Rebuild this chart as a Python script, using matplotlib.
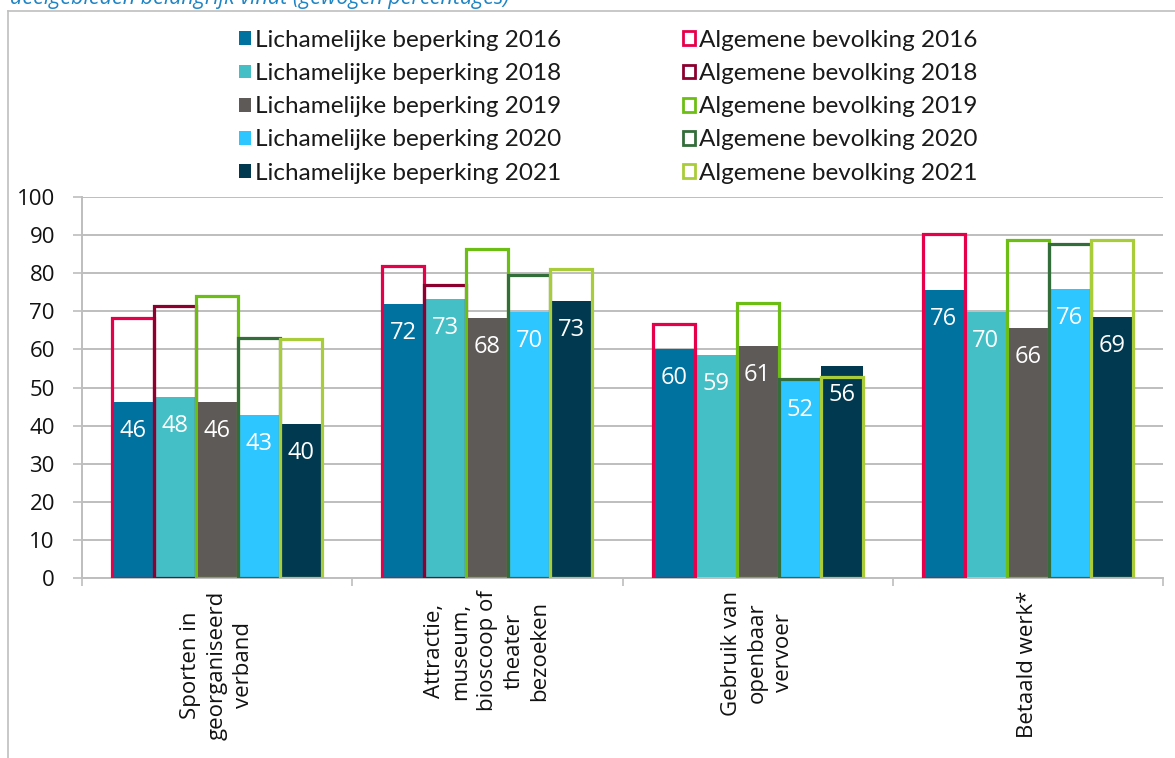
import matplotlib
matplotlib.use("Agg")
import matplotlib.pyplot as plt
from matplotlib.patches import Patch
from matplotlib.lines import Line2D
import numpy as np

# ---------------- data ----------------
categories = ["Sporten in\ngeorganiseerd\nverband",
              "Attractie,\nmuseum,\nbioscoop of\ntheater\nbezoeken",
              "Gebruik van\nopenbaar\nvervoer",
              "Betaald werk*"]
years = ["2016", "2018", "2019", "2020", "2021"]

# Lichamelijke beperking (filled bars), per year over the 4 categories
lb_2016 = [46.3, 71.9, 60.1, 75.6]
lb_2018 = [47.6, 73.2, 58.6, 69.9]
lb_2019 = [46.3, 68.2, 60.8, 65.7]
lb_2020 = [42.7, 69.7, 51.6, 75.8]
lb_2021 = [40.3, 72.7, 55.6, 68.6]

# Algemene bevolking (outlined bars); None = not available
ab_2016 = [68.2, 81.9, 66.7, 90.4]
ab_2018 = [71.3, 76.8, None, None]
ab_2019 = [74.0, 86.3, 72.2, 88.8]
ab_2020 = [63.1, 79.6, 52.2, 87.6]
ab_2021 = [62.7, 81.1, 52.7, 88.8]

yticks = [0, 10, 20, 30, 40, 50, 60, 70, 80, 90, 100]
title_text = "deelgebieden belangrijk vindt (gewogen percentages)"

lb_series = [lb_2016, lb_2018, lb_2019, lb_2020, lb_2021]
ab_series = [ab_2016, ab_2018, ab_2019, ab_2020, ab_2021]

lb_colors = ["#00729F", "#45BFC6", "#5E5A57", "#2EC6FF", "#013A50"]
ab_colors = ["#E6004C", "#8C0030", "#6DBE14", "#336E3A", "#A9CD3A"]

# ---------------- figure ----------------
W, H = 1175, 758
fig = plt.figure(figsize=(W / 100, H / 100), dpi=100)
fig.patch.set_facecolor("white")

# outer frame (top + left border of the embedded chart)
fig.add_artist(Line2D([8 / W, 8 / W], [0, 1 - 11 / H], transform=fig.transFigure,
                      color="#BFBFBF", lw=1.2))
fig.add_artist(Line2D([8 / W, 1], [1 - 11 / H, 1 - 11 / H], transform=fig.transFigure,
                      color="#BFBFBF", lw=1.2))

# cut-off title on top
fig.text(10 / W, 1 - 4 / H, title_text, fontsize=15.5, style="italic",
         family="Open Sans", color="#1F84C4", ha="left", va="baseline")

ax = fig.add_axes([82 / W, (H - 578) / H, (1163 - 82) / W, (578 - 197) / H])
ax.set_xlim(-0.5, 3.5)
ax.set_ylim(0, 100)

x = np.arange(len(categories))
bw = 0.1554
offsets = (np.arange(5) - 2) * bw

for i in range(5):
    vals = np.array(lb_series[i], dtype=float)
    ax.bar(x + offsets[i], vals, width=bw, color=lb_colors[i], zorder=2, linewidth=0)
    for xi, v in zip(x + offsets[i], vals):
        ax.annotate(f"{v:.0f}", xy=(xi, v), xytext=(0, -29), textcoords="offset pixels",
                    ha="center", va="center", color="white", fontsize=17,
                    family="Open Sans", zorder=5)

for i in range(5):
    xs = [xi + offsets[i] for xi, v in zip(x, ab_series[i]) if v is not None]
    vs = [v for v in ab_series[i] if v is not None]
    ax.bar(xs, vs, width=bw, fill=False, edgecolor=ab_colors[i], linewidth=2.3,
           zorder=3, joinstyle="miter")

# grid & axes styling
ax.set_yticks(yticks)
ax.yaxis.grid(True, color="#BEBEBE", lw=1.4)
ax.set_axisbelow(True)
for s in ["top", "right"]:
    ax.spines[s].set_visible(False)
for s in ["left", "bottom"]:
    ax.spines[s].set_color("#BEBEBE")
    ax.spines[s].set_linewidth(1.4)
ax.tick_params(axis="y", length=6.5, width=1.2, color="#BEBEBE", pad=13,
               labelsize=16, labelcolor="#111111")
for lab in ax.get_yticklabels():
    lab.set_family("Open Sans")

ax.set_xticks(x)
ax.set_xticklabels(categories, rotation=90, ha="center", va="top",
                   multialignment="center", fontsize=16, family="Open Sans",
                   color="#111111", linespacing=1.33)
ax.tick_params(axis="x", which="major", length=0, pad=9)
ax.set_xticks(np.arange(-0.5, 4.0, 1.0), minor=True)
ax.tick_params(axis="x", which="minor", length=6, width=1.2, color="#BEBEBE")

# legend
handles, labels = [], []
for i, yr in enumerate(years):
    handles.append(Patch(facecolor=lb_colors[i], edgecolor="none"))
    labels.append(f"Lichamelijke beperking {yr}")
for i, yr in enumerate(years):
    handles.append(Patch(facecolor="white", edgecolor=ab_colors[i], linewidth=2.0))
    labels.append(f"Algemene bevolking {yr}")

leg = fig.legend(handles, labels, ncol=2, loc="upper left",
                 bbox_to_anchor=(239 / W, 1 - 30 / H), frameon=False,
                 prop={"family": "Lato", "size": 17.5},
                 handlelength=0.5, handleheight=0.5, handletextpad=0.17,
                 columnspacing=5.0, labelspacing=0.50, borderaxespad=0, borderpad=0)
for t in leg.get_texts():
    t.set_color("#1a1a1a")

fig.savefig("out.png", dpi=100, facecolor="white")
